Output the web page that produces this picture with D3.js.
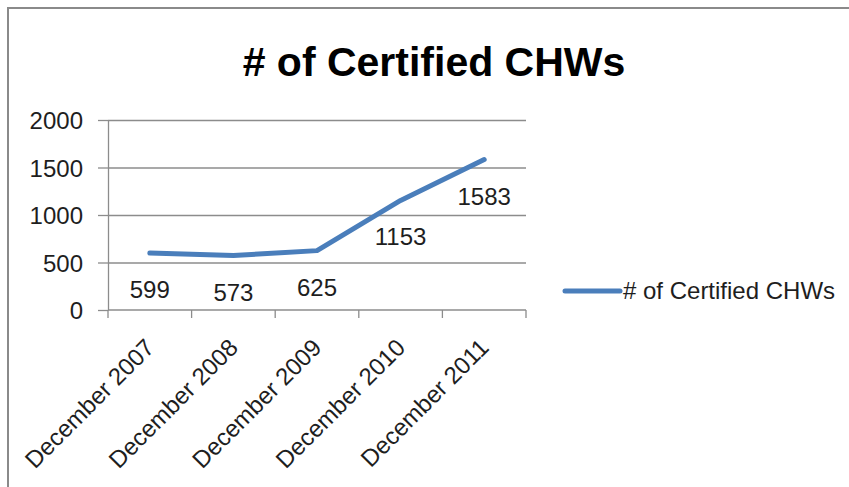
<!DOCTYPE html>
<html>
<head>
<meta charset="utf-8">
<script src="https://cdn.jsdelivr.net/npm/d3@7"></script>
<style>
  body { margin: 0; background: #fff; }
  svg { display: block; font-family: "Liberation Sans", Arial, sans-serif; }
</style>
</head>
<body>
<svg id="chart" width="849" height="487"></svg>
<script>
(function(){
    var categories = ['December 2007', 'December 2008', 'December 2009', 'December 2010', 'December 2011'];
    var values = [599, 573, 625, 1153, 1583];
    var yTicks = [0, 500, 1000, 1500, 2000];
    var title = '# of Certified CHWs';
    var seriesName = '# of Certified CHWs';

    var lineCol = '#4a7ebb',
        gridCol = '#8c8c8c',
        textCol = '#1e1e1e';

    var plot = {left: 108, right: 526, top: 120, bottom: 310};

    var svg = d3.select('#chart');

    // outer frame (only top and left edges show in the picture)
    svg.append('path')
        .attr('d', 'M8,487V8H849')
        .style('fill', 'none')
        .style('stroke', '#8a8a8a')
        .style('stroke-width', 2);

    svg.append('text')
        .attr('x', 434)
        .attr('y', 76)
        .attr('text-anchor', 'middle')
        .style('font-size', '41px')
        .style('font-weight', 'bold')
        .style('fill', '#000')
        .text(title);

    var x = d3.scaleBand()
        .domain(categories)
        .range([plot.left, plot.right])
        .padding(0);

    var y = d3.scaleLinear()
        .domain([0, 2000])
        .range([plot.bottom, plot.top]);

    // gridlines
    var grid = svg.append('g')
        .attr('transform', 'translate(' + plot.left + ',0)')
        .call(d3.axisLeft(y).tickValues(yTicks.slice(1)).tickSize(-(plot.right - plot.left)).tickFormat(''));
    grid.select('.domain').remove();
    grid.selectAll('line').style('stroke', gridCol).style('stroke-width', 1.3);

    // y axis
    var yAxis = svg.append('g')
        .attr('transform', 'translate(' + plot.left + ',0)')
        .call(d3.axisLeft(y).tickValues(yTicks).tickFormat(d3.format('d'))
            .tickSize(10).tickSizeOuter(0).tickPadding(15));
    yAxis.select('.domain').style('stroke', gridCol).style('stroke-width', 1.3);
    yAxis.selectAll('line').style('stroke', gridCol).style('stroke-width', 1.3);
    yAxis.selectAll('text')
        .style('font-size', '24px')
        .style('font-family', '"Liberation Sans", Arial, sans-serif')
        .style('fill', textCol)
        .attr('dy', '0.36em');

    // x axis baseline + ticks on band edges
    var xg = svg.append('g');
    xg.append('line')
        .attr('x1', plot.left).attr('x2', plot.right)
        .attr('y1', y(0)).attr('y2', y(0))
        .style('stroke', gridCol).style('stroke-width', 1.3);
    var edges = categories.map(function(c){ return x(c) }).concat([x(categories[categories.length-1]) + x.bandwidth()]);
    xg.selectAll('.xtick')
        .data(edges)
        .enter().append('line')
        .attr('class', 'xtick')
        .attr('x1', function(d){ return d }).attr('x2', function(d){ return d })
        .attr('y1', y(0)).attr('y2', y(0) + 8)
        .style('stroke', gridCol).style('stroke-width', 1.3);

    xg.selectAll('.xlab')
        .data(categories)
        .enter().append('text')
        .attr('class', 'xlab')
        .attr('text-anchor', 'end')
        .attr('transform', function(d){
            return 'translate(' + (x(d) + x.bandwidth() / 2 + 6) + ',' + (y(0) + 39) + ') rotate(-45)';
        })
        .style('font-size', '24px')
        .style('fill', textCol)
        .text(function(d){ return d });

    // series line
    var pts = categories.map(function(c, i){ return {c: c, v: values[i]} });
    svg.append('path')
        .datum(pts)
        .attr('d', d3.line()
            .x(function(d){ return x(d.c) + x.bandwidth() / 2 })
            .y(function(d){ return y(d.v) }))
        .style('fill', 'none')
        .style('stroke', lineCol)
        .style('stroke-width', 5)
        .style('stroke-linecap', 'round')
        .style('stroke-linejoin', 'round');

    // data labels, below each point
    svg.selectAll('.dlab')
        .data(pts)
        .enter().append('text')
        .attr('class', 'dlab')
        .attr('x', function(d){ return x(d.c) + x.bandwidth() / 2 })
        .attr('y', function(d){ return y(d.v) + 45 })
        .attr('text-anchor', 'middle')
        .style('font-size', '24px')
        .style('fill', textCol)
        .text(function(d){ return d.v });

    // legend
    var leg = svg.append('g').attr('transform', 'translate(565,291)');
    leg.append('line')
        .attr('x1', 0).attr('x2', 55)
        .style('stroke', lineCol)
        .style('stroke-width', 5)
        .style('stroke-linecap', 'round');
    leg.append('text')
        .attr('x', 58)
        .attr('y', 8)
        .style('font-size', '24px')
        .style('fill', textCol)
        .text(seriesName);
})();
</script>
</body>
</html>
